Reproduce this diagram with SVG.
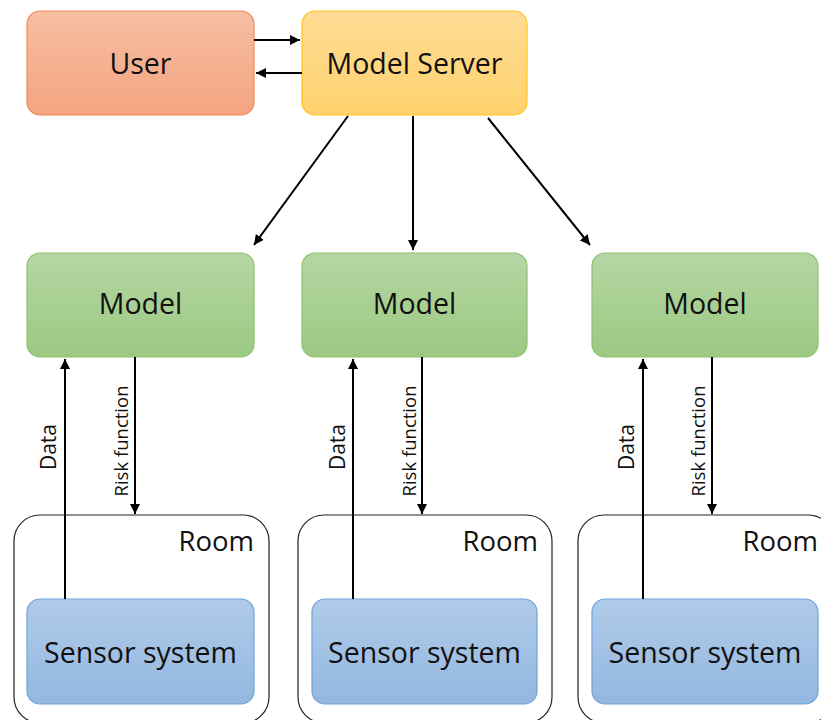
<svg xmlns="http://www.w3.org/2000/svg" width="821" height="720" viewBox="0 0 821 720">
<defs>
<linearGradient id="gUser" x1="0" y1="0" x2="0" y2="1"><stop offset="0" stop-color="#F6BEA3"/><stop offset="1" stop-color="#F4A47F"/></linearGradient>
<linearGradient id="gServer" x1="0" y1="0" x2="0" y2="1"><stop offset="0" stop-color="#FFDC96"/><stop offset="1" stop-color="#FFD26D"/></linearGradient>
<linearGradient id="gModel" x1="0" y1="0" x2="0" y2="1"><stop offset="0" stop-color="#B5D6A4"/><stop offset="1" stop-color="#9CC982"/></linearGradient>
<linearGradient id="gSensor" x1="0" y1="0" x2="0" y2="1"><stop offset="0" stop-color="#B0CBE9"/><stop offset="1" stop-color="#93B7E0"/></linearGradient>
<marker id="arr" viewBox="0 0 10 10" refX="10" refY="5" markerWidth="5" markerHeight="5" orient="auto" markerUnits="strokeWidth"><path d="M0,0 L10,5 L0,10 z" fill="#000"/></marker>
</defs>
<style>
text{font-family:"Open Sans","Noto Sans","Liberation Sans",sans-serif;fill:#111;}
.lbl{font-size:28.5px;text-anchor:middle;dominant-baseline:central;}
.room{font-size:27.5px;text-anchor:end;}
.small{font-size:18.5px;text-anchor:middle;dominant-baseline:central;}
.data{font-size:21px;text-anchor:middle;dominant-baseline:central;}
.user{fill:url(#gUser);stroke:#F08A58;stroke-width:1.2;}
.server{fill:url(#gServer);stroke:#FFC31A;stroke-width:1.2;}
.model{fill:url(#gModel);stroke:#8DC06A;stroke-width:1.2;}
.sensor{fill:url(#gSensor);stroke:#6FA3DA;stroke-width:1.2;}
.roombox{fill:none;stroke:#222;stroke-width:1.2;}
.conn line{stroke:#000;stroke-width:2;marker-end:url(#arr);}
</style>
<rect width="821" height="720" fill="#fff"/>

<g id="room1"><rect class="roombox" x="14" y="515" width="255" height="208" rx="26"/><text class="room" x="254" y="551">Room</text></g>
<g id="room2"><rect class="roombox" x="298" y="515" width="254" height="208" rx="26"/><text class="room" x="538" y="551">Room</text></g>
<g id="room3"><rect class="roombox" x="578" y="515" width="256" height="208" rx="26"/><text class="room" x="818" y="551">Room</text></g>

<g id="user"><rect class="user" x="27" y="11" width="227" height="104" rx="13"/><text class="lbl" x="140.5" y="63">User</text></g>
<g id="server"><rect class="server" x="302" y="11" width="225" height="104" rx="13"/><text class="lbl" x="414.5" y="63">Model Server</text></g>

<g id="model1"><rect class="model" x="27" y="253" width="227" height="104" rx="13"/><text class="lbl" x="140.5" y="303">Model</text></g>
<g id="model2"><rect class="model" x="302" y="253" width="225" height="104" rx="13"/><text class="lbl" x="414.5" y="303">Model</text></g>
<g id="model3"><rect class="model" x="592" y="253" width="226" height="104" rx="13"/><text class="lbl" x="705" y="303">Model</text></g>

<g id="sensor1"><rect class="sensor" x="27" y="599" width="227" height="105" rx="13"/><text class="lbl" x="140.5" y="652">Sensor system</text></g>
<g id="sensor2"><rect class="sensor" x="312" y="599" width="225" height="105" rx="13"/><text class="lbl" x="424.5" y="652">Sensor system</text></g>
<g id="sensor3"><rect class="sensor" x="592" y="599" width="226" height="105" rx="13"/><text class="lbl" x="705" y="652">Sensor system</text></g>

<g id="connectors" class="conn">
<line x1="254" y1="40" x2="300" y2="40"/>
<line x1="302" y1="73" x2="256" y2="73"/>
<line x1="348" y1="116" x2="254" y2="245"/>
<line x1="413" y1="116" x2="413" y2="250"/>
<line x1="488" y1="118" x2="590" y2="245"/>
<line x1="65" y1="599" x2="65" y2="359"/>
<line x1="135" y1="357" x2="135" y2="514"/>
<line x1="353" y1="599" x2="353" y2="359"/>
<line x1="422" y1="357" x2="422" y2="514"/>
<line x1="643" y1="599" x2="643" y2="359"/>
<line x1="712" y1="357" x2="712" y2="514"/>
</g>
<g id="labels">
<text class="data" transform="translate(48,447) rotate(-90)">Data</text>
<text class="small" transform="translate(120,441) rotate(-90)">Risk function</text>
<text class="data" transform="translate(337,447) rotate(-90)">Data</text>
<text class="small" transform="translate(408,441) rotate(-90)">Risk function</text>
<text class="data" transform="translate(626,447) rotate(-90)">Data</text>
<text class="small" transform="translate(697,441) rotate(-90)">Risk function</text>
</g>
</svg>
